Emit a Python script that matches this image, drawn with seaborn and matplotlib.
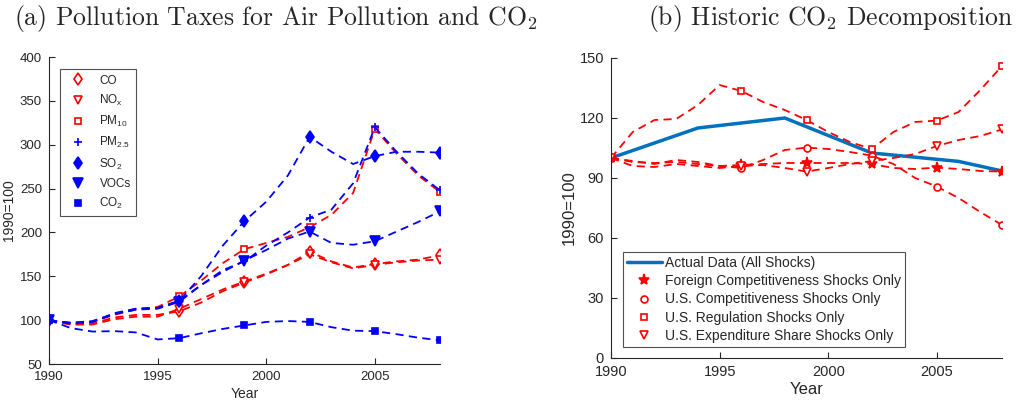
#!/usr/bin/env python3
import matplotlib
matplotlib.use("Agg")
import matplotlib.pyplot as plt
from matplotlib.lines import Line2D
import numpy as np
import pandas as pd
import seaborn as sns

# panel (a): annual index values, 1990=100
years = list(range(1990, 2009))
co = [100, 95, 96, 103, 106, 106, 110, 120, 133, 143, 152, 163, 178, 167, 160, 164, 167, 169, 174]
nox = [100, 95, 95, 101, 104, 104, 113, 124, 135, 144, 153, 163, 175, 166, 159, 163, 166, 168, 169]
pm10 = [100, 96, 98, 106, 112, 115, 127, 145, 165, 181, 188, 195, 206, 220, 245, 318, 290, 265, 246]
pm25 = [100, 97, 98, 108, 113, 114, 122, 140, 157, 167, 185, 200, 217, 226, 256, 320, 292, 267, 248]
so2 = [100, 97, 99, 107, 113, 114, 122, 150, 185, 213, 235, 265, 309, 292, 278, 287, 292, 292, 291]
vocs = [100, 96, 98, 107, 112, 113, 121, 140, 155, 168, 180, 193, 201, 188, 186, 190, 201, 212, 224]
co2 = [100, 91, 87, 87.5, 86, 78, 79.5, 85, 90, 94, 98, 99, 98, 92, 88, 87.5, 84, 80, 77]
mark_years = [1990, 1996, 1999, 2002, 2005, 2008]

# panel (b): CO2 decomposition
actual_years = [1990, 1994, 1998, 2002, 2006, 2008]
actual = [100, 115, 120, 102.5, 98.3, 93.5]
foreign = [100, 98, 97.5, 98, 97, 96, 96.5, 97, 97.5, 97.5, 97.5, 97.5, 97, 95, 94.5, 95.2, 94.5, 93.5, 93.2]
us_comp = [100, 98.5, 97, 99, 98, 96, 95, 99, 104, 105.2, 104.5, 103, 101.2, 97, 90, 85.7, 80, 73, 66.5]
us_reg = [100, 113, 119, 119.5, 126.5, 136.5, 133.5, 128, 124, 119, 113, 108, 104.5, 113, 118, 118.7, 123, 134, 146]
us_exp = [100, 96, 95.5, 97, 96, 95, 96, 96.5, 95, 93.2, 95, 97, 98.5, 100, 102, 106, 109, 111, 114.3]

RED = "#FF0000"
BLUE = "#0000FF"
MBLUE = "#0072BD"
GRAY = "#262626"
DASH = (0, (4.5, 3))

sns.set_theme(style="ticks")
plt.rcParams["font.family"] = ["Liberation Sans", "DejaVu Sans"]
plt.rcParams["mathtext.fontset"] = "custom"
plt.rcParams["mathtext.rm"] = "Liberation Sans"
plt.rcParams["mathtext.it"] = "Liberation Sans:italic"
plt.rcParams["axes.edgecolor"] = GRAY
plt.rcParams["xtick.color"] = GRAY
plt.rcParams["ytick.color"] = GRAY
plt.rcParams["axes.labelcolor"] = GRAY

fig = plt.figure(figsize=(10.23, 4.09), dpi=100)
ax1 = fig.add_axes([0.0479, 0.110, 0.3822, 0.7506])
ax2 = fig.add_axes([0.5973, 0.1247, 0.3822, 0.7335])

idx = [years.index(y) for y in mark_years]

left_series = [
    ("CO", co, RED, "d", "white", 6.5),
    ("NO$_\\mathregular{x}$", nox, RED, "v", "white", 6),
    ("PM$_{10}$", pm10, RED, "s", "white", 4.5),
    ("PM$_{2.5}$", pm25, BLUE, "+", BLUE, 6),
    ("SO$_2$", so2, BLUE, "d", BLUE, 6.5),
    ("VOCs", vocs, BLUE, "v", BLUE, 6.5),
    ("CO$_2$", co2, BLUE, "s", BLUE, 5),
]

handles = []
for label, vals, col, m, fc, ms in left_series:
    sns.lineplot(x=years, y=vals, ax=ax1, color=col, linestyle=DASH, linewidth=1.3,
                 marker=m, markevery=idx, markersize=ms, markerfacecolor=fc,
                 markeredgecolor=col, markeredgewidth=1.2, legend=False)
    handles.append(Line2D([], [], linestyle="none", marker=m, color=col, markersize=ms,
                          markerfacecolor=fc, markeredgecolor=col, markeredgewidth=1.2, label=label))

ax1.set_xlim(1990, 2008)
ax1.set_ylim(50, 400)
ax1.set_xticks([1990, 1995, 2000, 2005])
ax1.set_yticks(range(50, 401, 50))
ax1.set_xlabel("Year", fontsize=10, labelpad=3)
ax1.set_ylabel("1990=100", fontsize=10, labelpad=3)
leg1 = ax1.legend(handles=handles, loc="upper left", bbox_to_anchor=(0.028, 0.96), fontsize=8.5,
                  frameon=True, fancybox=False, edgecolor=GRAY, handlelength=2.2,
                  labelspacing=0.52, borderpad=0.45, handletextpad=0.7, borderaxespad=0)
leg1.get_frame().set_linewidth(0.8)

# panel (b)
sns.lineplot(x=actual_years, y=actual, ax=ax2, color=MBLUE, linewidth=2.5, legend=False)
right_series = [
    ("Foreign Competitiveness Shocks Only", foreign, "*", RED, 8),
    ("U.S. Competitiveness Shocks Only", us_comp, "o", "white", 5),
    ("U.S. Regulation Shocks Only", us_reg, "s", "white", 4),
    ("U.S. Expenditure Share Shocks Only", us_exp, "v", "white", 6),
]
handles2 = [Line2D([], [], color=MBLUE, linewidth=2.5, label="Actual Data (All Shocks)")]
for label, vals, m, fc, ms in right_series:
    sns.lineplot(x=years, y=vals, ax=ax2, color=RED, linestyle=DASH, linewidth=1.3,
                 marker=m, markevery=idx, markersize=ms, markerfacecolor=fc,
                 markeredgecolor=RED, markeredgewidth=1.2, legend=False)
    handles2.append(Line2D([], [], linestyle="none", marker=m, color=RED, markersize=ms,
                           markerfacecolor=fc, markeredgecolor=RED, markeredgewidth=1.2, label=label))

ax2.set_xlim(1990, 2008)
ax2.set_ylim(0, 150)
ax2.set_xticks([1990, 1995, 2000, 2005])
ax2.set_yticks(range(0, 151, 30))
ax2.set_xlabel("Year", fontsize=12, labelpad=2)
ax2.set_ylabel("1990=100", fontsize=12, labelpad=2)
leg2 = ax2.legend(handles=handles2, loc="lower left", bbox_to_anchor=(0.03, 0.037), fontsize=10,
                  frameon=True, fancybox=False, edgecolor=GRAY, handlelength=2.5,
                  labelspacing=0.3, borderpad=0.3, handletextpad=0.25, borderaxespad=0)
leg2.get_frame().set_linewidth(0.8)

for ax, ls in ((ax1, 9.5), (ax2, 10.5)):
    sns.despine(ax=ax)
    ax.tick_params(direction="in", length=4, width=0.8, labelsize=ls, pad=5)
    for s in ("left", "bottom"):
        ax.spines[s].set_linewidth(0.8)

fig.text(0.27, 0.955, "(a) Pollution Taxes for Air Pollution and CO$_2$", ha="center", va="center",
         fontsize=18.5, family="cmr10", math_fontfamily="cm")
fig.text(0.812, 0.955, "(b) Historic CO$_2$ Decomposition", ha="center", va="center",
         fontsize=18.5, family="cmr10", math_fontfamily="cm")

plt.savefig("out.png", dpi=100)
plt.close()
